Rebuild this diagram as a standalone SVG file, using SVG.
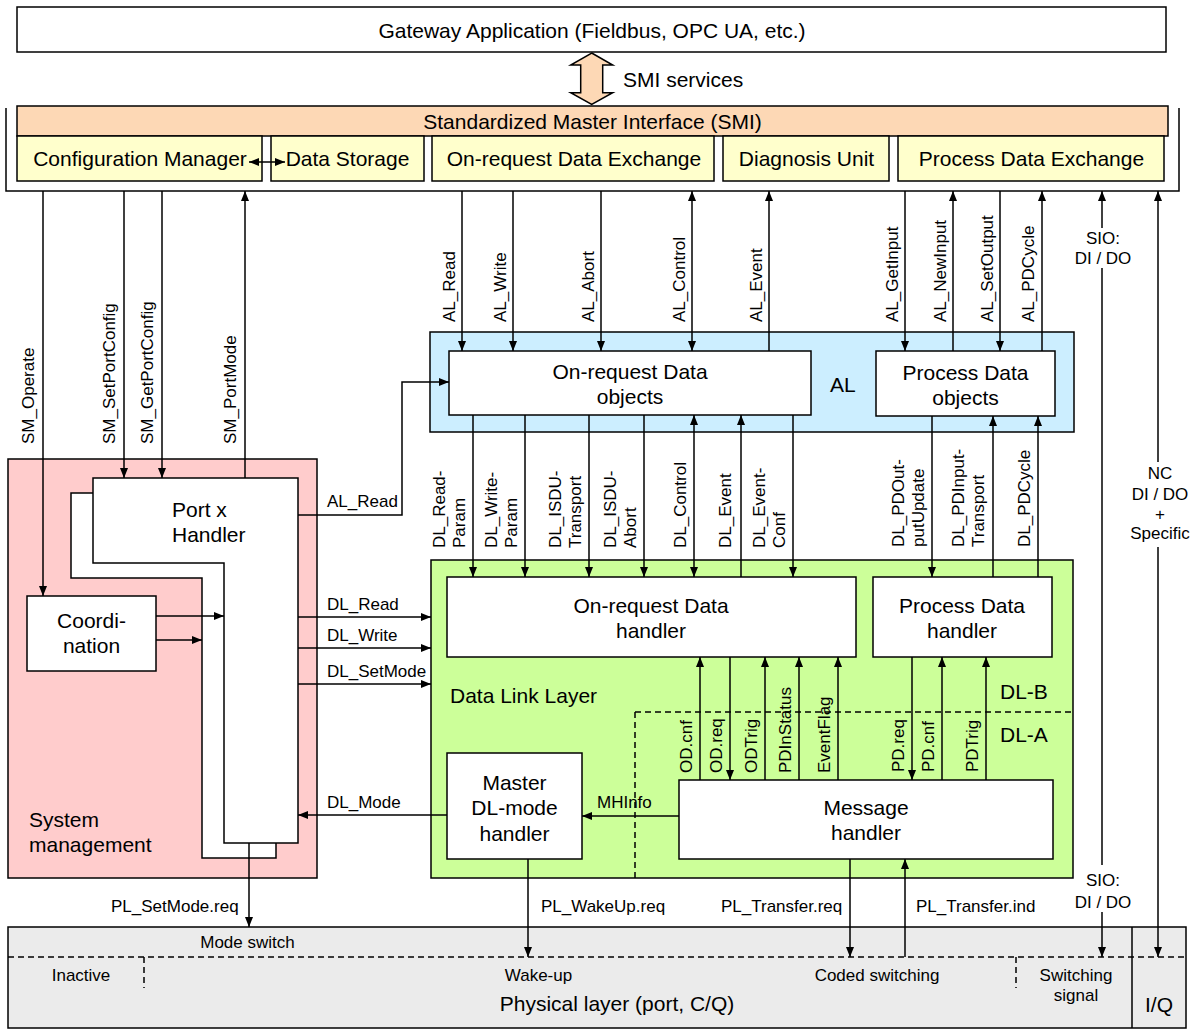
<svg xmlns="http://www.w3.org/2000/svg" width="1197" height="1030" viewBox="0 0 1197 1030">
<defs>
<marker id="ah" viewBox="0 0 10 8" refX="10" refY="4" markerWidth="10" markerHeight="8" markerUnits="userSpaceOnUse" orient="auto-start-reverse"><path d="M0,0L10,4L0,8z" fill="#000"/></marker>
<style>
text{font-family:"Liberation Sans",Arial,sans-serif;fill:#000}
.b{font-size:21px}
.s{font-size:17px}
.m{text-anchor:middle}
.box{stroke:#000;stroke-width:1.5}
.w{fill:#fff}
.y{fill:#ffffcc}
.o{fill:#fdd8b5}
.c{stroke:#000;stroke-width:1.5;fill:none}
.a{marker-end:url(#ah)}
.aa{marker-start:url(#ah);marker-end:url(#ah)}
.d{stroke:#000;stroke-width:1.5;stroke-dasharray:6 4;fill:none}
</style>
</defs>
<rect width="1197" height="1030" fill="#fff"/>

<g id="gateway"><rect class="box w" x="17" y="7" width="1149" height="45"/><text class="b m" x="592" y="37.5">Gateway Application (Fieldbus, OPC UA, etc.)</text></g>

<g id="smi-frame"><path class="c" d="M6,108V191H1179V108"/></g>
<g id="smi"><rect class="box o" x="17" y="106" width="1151" height="30"/><text class="b m" x="592.5" y="128.5">Standardized Master Interface (SMI)</text></g>
<g id="config-manager"><rect class="box y" x="17" y="136" width="245" height="45"/><text class="b m" x="140" y="166">Configuration Manager</text></g>
<g id="data-storage"><rect class="box y" x="271" y="136" width="153" height="45"/><text class="b m" x="347.5" y="166">Data Storage</text></g>
<g id="on-request-exchange"><rect class="box y" x="432" y="136" width="282" height="45"/><text class="b m" x="574" y="166">On-request Data Exchange</text></g>
<g id="diagnosis-unit"><rect class="box y" x="723" y="136" width="166" height="45"/><text class="b m" x="806.5" y="166">Diagnosis Unit</text></g>
<g id="process-exchange"><rect class="box y" x="898" y="136" width="266" height="45"/><text class="b m" x="1031.5" y="166">Process Data Exchange</text></g>

<g id="al-layer"><rect class="box" fill="#cceeff" x="430" y="332" width="644" height="100"/><text class="b" x="830" y="392">AL</text></g>
<g id="od-objects"><rect class="box w" x="449" y="351" width="362" height="64"/><text class="b m" x="630" y="379">On-request Data</text><text class="b m" x="630" y="404">objects</text></g>
<g id="pd-objects"><rect class="box w" x="876" y="351" width="179" height="65"/><text class="b m" x="965.5" y="380">Process Data</text><text class="b m" x="965.5" y="405">objects</text></g>

<g id="data-link-layer"><rect class="box" fill="#ccff99" x="431" y="560" width="642" height="318"/><text class="b" x="450" y="703">Data Link Layer</text><text class="b" x="1000" y="698.5">DL-B</text><text class="b" x="1000" y="741.5">DL-A</text><path class="d" d="M635,712H1073M635,712V878"/></g>
<g id="od-handler"><rect class="box w" x="447" y="577" width="409" height="80"/><text class="b m" x="651" y="613">On-request Data</text><text class="b m" x="651" y="638">handler</text></g>
<g id="pd-handler"><rect class="box w" x="873" y="577" width="179" height="80"/><text class="b m" x="962" y="613">Process Data</text><text class="b m" x="962" y="638">handler</text></g>
<g id="dl-mode-handler"><rect class="box w" x="447" y="753" width="135" height="106"/><text class="b m" x="514.5" y="790">Master</text><text class="b m" x="514.5" y="815">DL-mode</text><text class="b m" x="514.5" y="841">handler</text></g>
<g id="message-handler"><rect class="box w" x="679" y="780" width="374" height="79"/><text class="b m" x="866" y="815">Message</text><text class="b m" x="866" y="840">handler</text></g>

<g id="system-management"><rect class="box" fill="#ffcccc" x="8" y="459" width="309" height="419"/><text class="b" x="29" y="827">System</text><text class="b" x="29" y="852">management</text></g>
<g id="port-handler-stack"><polygon class="box w" points="71,493 276,493 276,858 202,858 202,578 71,578"/></g>
<g id="port-handler"><polygon class="box w" points="93,478 298,478 298,843 224,843 224,563 93,563"/><text class="b" x="172" y="517">Port x</text><text class="b" x="172" y="542">Handler</text></g>
<g id="coordination"><rect class="box w" x="27" y="596" width="129" height="75"/><text class="b m" x="91.5" y="628">Coordi-</text><text class="b m" x="91.5" y="653">nation</text></g>

<g id="physical-layer"><rect class="box" fill="#ebebeb" x="8" y="927" width="1178" height="101"/><path class="c" d="M1132,927V1028"/><path class="d" d="M8,957H1186M144,957V988M1016,957V988"/>
<text class="s m" x="247.5" y="948">Mode switch</text>
<text class="s m" x="81" y="981">Inactive</text>
<text class="s m" x="538.5" y="981">Wake-up</text>
<text class="s m" x="877" y="981">Coded switching</text>
<text class="s m" x="1076" y="981">Switching</text>
<text class="s m" x="1076" y="1001">signal</text>
<text class="b m" x="617" y="1011">Physical layer (port, C/Q)</text>
<text class="b m" x="1159" y="1012">I/Q</text></g>

<g id="connectors">
<polygon class="box o" points="591.7,53 612.7,65 602.7,65 602.7,92.7 612.7,92.7 591.7,104.5 570.7,92.7 580.7,92.7 580.7,65 570.7,65"/>
<text class="b" x="623" y="87">SMI services</text>
<path class="c aa" d="M249,162H285"/>

<path class="c a" d="M43,191V596"/>
<path class="c a" d="M124,191V478"/>
<path class="c a" d="M162,191V478"/>
<path class="c a" d="M245,478V191"/>
<text class="s" transform="translate(34,444) rotate(-90)">SM_Operate</text>
<text class="s" transform="translate(115,444) rotate(-90)">SM_SetPortConfig</text>
<text class="s" transform="translate(153,444) rotate(-90)">SM_GetPortConfig</text>
<text class="s" transform="translate(236,444) rotate(-90)">SM_PortMode</text>

<path class="c a" d="M462,191V351"/>
<path class="c a" d="M513,191V351"/>
<path class="c a" d="M601,191V351"/>
<path class="c aa" d="M692,191V351"/>
<path class="c a" d="M769,351V191"/>
<path class="c a" d="M905,191V351"/>
<path class="c a" d="M953,351V191"/>
<path class="c a" d="M1000,191V351"/>
<path class="c a" d="M1042,351V191"/>
<text class="s" transform="translate(455,322) rotate(-90)">AL_Read</text>
<text class="s" transform="translate(506,322) rotate(-90)">AL_Write</text>
<text class="s" transform="translate(594,322) rotate(-90)">AL_Abort</text>
<text class="s" transform="translate(685,322) rotate(-90)">AL_Control</text>
<text class="s" transform="translate(762,322) rotate(-90)">AL_Event</text>
<text class="s" transform="translate(898,322) rotate(-90)">AL_GetInput</text>
<text class="s" transform="translate(946,322) rotate(-90)">AL_NewInput</text>
<text class="s" transform="translate(993,322) rotate(-90)">AL_SetOutput</text>
<text class="s" transform="translate(1034,322) rotate(-90)">AL_PDCycle</text>

<path class="c a" d="M1102,228V191"/>
<path class="c" d="M1102,268V865"/>
<path class="c a" d="M1102,912V957"/>
<text class="s m" x="1103" y="243.5">SIO:</text>
<text class="s m" x="1103" y="263.5">DI / DO</text>
<text class="s m" x="1103" y="886">SIO:</text>
<text class="s m" x="1103" y="908">DI / DO</text>
<path class="c a" d="M1158,462V191"/>
<path class="c a" d="M1158,547V957"/>
<text class="s m" x="1160" y="478.5">NC</text>
<text class="s m" x="1160" y="499.5">DI / DO</text>
<text class="s m" x="1160" y="520">+</text>
<text class="s m" x="1160" y="539">Specific</text>

<path class="c a" d="M473,415V577"/>
<path class="c a" d="M525,415V577"/>
<path class="c a" d="M589,415V577"/>
<path class="c a" d="M644,415V577"/>
<path class="c aa" d="M694,415V577"/>
<path class="c a" d="M741,577V415"/>
<path class="c a" d="M793,415V577"/>
<text class="s" transform="translate(445,548) rotate(-90)"><tspan x="0" y="0">DL_Read-</tspan><tspan x="0" y="20">Param</tspan></text>
<text class="s" transform="translate(497,548) rotate(-90)"><tspan x="0" y="0">DL_Write-</tspan><tspan x="0" y="20">Param</tspan></text>
<text class="s" transform="translate(561,548) rotate(-90)"><tspan x="0" y="0">DL_ISDU-</tspan><tspan x="0" y="20">Transport</tspan></text>
<text class="s" transform="translate(616,548) rotate(-90)"><tspan x="0" y="0">DL_ISDU-</tspan><tspan x="0" y="20">Abort</tspan></text>
<text class="s" transform="translate(686,548) rotate(-90)">DL_Control</text>
<text class="s" transform="translate(731,548) rotate(-90)">DL_Event</text>
<text class="s" transform="translate(765,548) rotate(-90)"><tspan x="0" y="0">DL_Event-</tspan><tspan x="0" y="20">Conf</tspan></text>

<path class="c a" d="M932,416V577"/>
<path class="c a" d="M993,577V416"/>
<path class="c a" d="M1038,577V416"/>
<text class="s" transform="translate(904,547) rotate(-90)"><tspan x="0" y="0">DL_PDOut-</tspan><tspan x="0" y="20">putUpdate</tspan></text>
<text class="s" transform="translate(964,547) rotate(-90)"><tspan x="0" y="0">DL_PDInput-</tspan><tspan x="0" y="20">Transport</tspan></text>
<text class="s" transform="translate(1030,547) rotate(-90)">DL_PDCycle</text>

<path class="c a" d="M700,780V657"/>
<path class="c a" d="M730,657V780"/>
<path class="c a" d="M765,780V657"/>
<path class="c a" d="M799,780V657"/>
<path class="c a" d="M838,780V657"/>
<text class="s" transform="translate(692,773) rotate(-90)">OD.cnf</text>
<text class="s" transform="translate(722,773) rotate(-90)">OD.req</text>
<text class="s" transform="translate(757,773) rotate(-90)">ODTrig</text>
<text class="s" transform="translate(791,773) rotate(-90)">PDInStatus</text>
<text class="s" transform="translate(830,773) rotate(-90)">EventFlag</text>

<path class="c a" d="M912,657V780"/>
<path class="c a" d="M942,780V657"/>
<path class="c a" d="M986,780V657"/>
<text class="s" transform="translate(904,772) rotate(-90)">PD.req</text>
<text class="s" transform="translate(934,772) rotate(-90)">PD.cnf</text>
<text class="s" transform="translate(978,772) rotate(-90)">PDTrig</text>

<path class="c a" d="M298,515H402V382H449"/>
<text class="s" x="327" y="507">AL_Read</text>
<path class="c a" d="M298,617H431"/>
<text class="s" x="327" y="610">DL_Read</text>
<path class="c a" d="M298,648H431"/>
<text class="s" x="327" y="641">DL_Write</text>
<path class="c a" d="M298,684H431"/>
<text class="s" x="327" y="677">DL_SetMode</text>
<path class="c a" d="M447,815H298"/>
<text class="s" x="327" y="808">DL_Mode</text>
<path class="c a" d="M156,616H224"/>
<path class="c a" d="M156,640H202"/>
<path class="c a" d="M679,816H582"/>
<text class="s" x="597" y="808">MHInfo</text>

<path class="c a" d="M249,843V927"/>
<text class="s" x="111" y="912">PL_SetMode.req</text>
<path class="c a" d="M528,859V957"/>
<text class="s" x="541" y="912">PL_WakeUp.req</text>
<path class="c a" d="M850,859V957"/>
<text class="s" x="721" y="912">PL_Transfer.req</text>
<path class="c a" d="M905,957V859"/>
<text class="s" x="916" y="912">PL_Transfer.ind</text>
</g>
</svg>
